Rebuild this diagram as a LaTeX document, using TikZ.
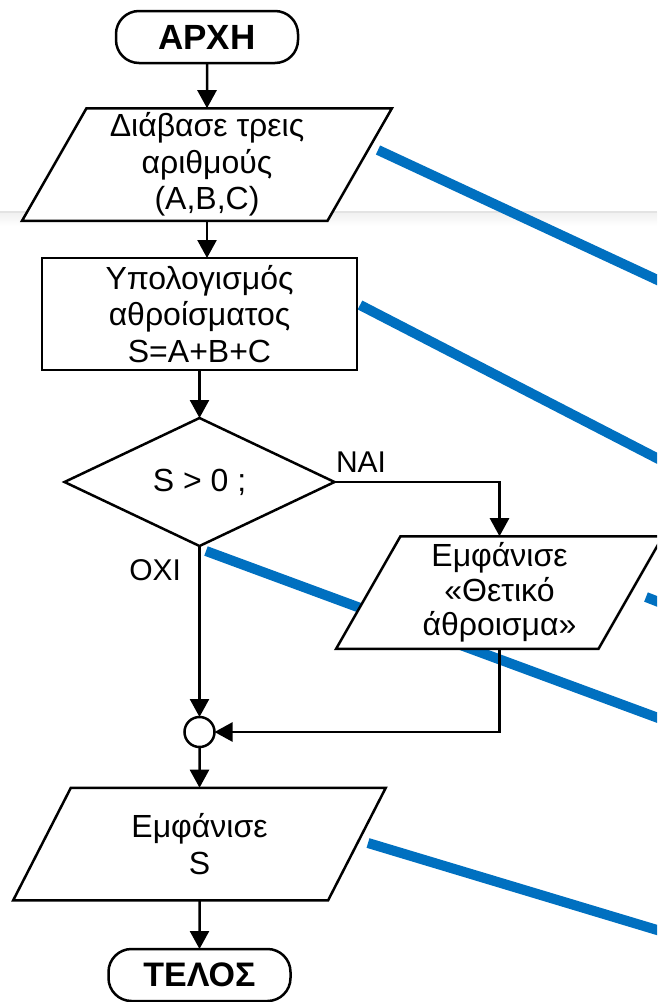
\documentclass[tikz,border=0pt]{standalone}
\usepackage{fontspec}
\setmainfont{Liberation Sans}
\usetikzlibrary{shapes.geometric,arrows.meta}
\definecolor{annot}{RGB}{0,112,192}
\newcommand{\bodyfont}{\fontsize{32}{36.5}\selectfont}
\begin{document}
\begin{tikzpicture}[x=1pt,y=-1pt,
  every node/.style={inner sep=0pt, outer sep=0pt},
  flow/.style={line width=2.5pt, black},
  arr/.style={flow, -{Triangle[width=19pt,length=18pt]}},
  shapeline/.style={draw, line width=2.5pt, fill=white},
  term/.style={shapeline, rectangle, rounded corners=23pt, minimum width=182pt,
    minimum height=52pt, font=\bfseries\fontsize{35}{40}\selectfont},
  io/.style={shapeline, trapezium, trapezium left angle=63.4,
    trapezium right angle=116.6, trapezium stretches=true,
    minimum height=112.5pt, align=center, font=\bodyfont},
  proc/.style={shapeline, rectangle, minimum width=315pt, minimum height=112pt,
    align=center, font=\bodyfont},
  dec/.style={shapeline, diamond, minimum width=270pt, minimum height=128pt,
    font=\bodyfont},
  joint/.style={shapeline, circle, minimum size=30pt},
  lbl/.style={font=\fontsize{30}{34}\selectfont},
  note/.style={line width=10pt, annot}
]
\useasboundingbox (0,0) rectangle (657,1002);
\clip (0,0) rectangle (657,1002);

% faint page seam
\shade[top color=gray!12, bottom color=white] (0,212) rectangle (657,226);
\draw[gray!22, line width=1.5pt] (0,212) -- (657,212);

% annotation leaders running off to the right
\coordinate (a1) at (378,150);  \coordinate (b1) at (707,303);
\coordinate (a2) at (360,305);  \coordinate (b2) at (707,484);
\coordinate (a3) at (206,551);  \coordinate (b3) at (707,736);
\coordinate (a4) at (646,597);  \coordinate (b4) at (707,621);
\coordinate (a5) at (368,843);  \coordinate (b5) at (707,945);
\draw[note] (a1) -- (b1);
\draw[note] (a2) -- (b2);
\draw[note] (a3) -- (b3);
\draw[note] (a4) -- (b4);
\draw[note] (a5) -- (b5);

% flowchart blocks
\node[term] (start) at (207,37) {ΑΡΧΗ};
\node[io, minimum width=371pt] (in1) at (207,164.5)
  {Διάβασε τρεις\\αριθμούς\\(A,B,C)};
\node[proc] (calc) at (199.5,314) {Υπολογισμός\\αθροίσματος\\S=A+B+C};
\node[dec] (test) at (199.5,482) {S > 0 ;};
\node[io, minimum width=327pt, font=\fontsize{32}{34.5}\selectfont] (out1) at (499.5,592.5)
  {Εμφάνισε\\«Θετικό\\άθροισμα»};
\node[joint] (join) at (199.5,732) {};
\node[io, minimum width=373pt] (out2) at (199.5,844) {Εμφάνισε\\S};
\node[term, font=\bfseries\fontsize{34}{40}\selectfont] (stop) at (199.5,975) {ΤΕΛΟΣ};

% branch labels
\node[lbl, anchor=west] (yes) at (336,462) {ΝΑΙ};
\node[lbl, anchor=east] (no) at (181,570) {ΟΧΙ};

% connectors
\draw[arr] (start.south) -- (in1.north);
\draw[arr] (in1.south) -- (in1.south |- calc.north);
\draw[arr] (calc.south) -- (test.north);
\draw[arr] (test.east) -| (out1.north);
\draw[arr] (test.south) -- (join.north);
\draw[arr] (out1.south) |- (join.east);
\draw[arr] (join.south) -- (out2.north);
\draw[arr] (out2.south) -- (stop.north);
\end{tikzpicture}
\end{document}
